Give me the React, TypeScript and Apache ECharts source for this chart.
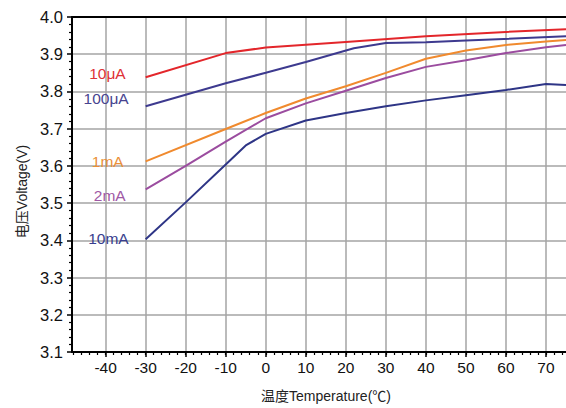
import React, { useEffect, useRef } from "react";
import * as echarts from "echarts";

// ---- data ----
const seriesNames = ["10μA", "100μA", "1mA", "2mA", "10mA"];

const temps10uA = [-30, -10, 0, 20, 40, 60, 75];
const volts10uA = [3.838, 3.903, 3.918, 3.933, 3.948, 3.96, 3.967];

const temps100uA = [-30, -10, 0, 10, 22, 30, 40, 50, 75];
const volts100uA = [3.76, 3.822, 3.85, 3.879, 3.916, 3.93, 3.932, 3.937, 3.948];

const temps1mA = [-30, -10, 0, 10, 20, 30, 40, 50, 60, 70, 75];
const volts1mA = [3.612, 3.699, 3.742, 3.781, 3.814, 3.85, 3.888, 3.91, 3.925, 3.934, 3.938];

const temps2mA = [-30, -20, -10, 0, 10, 20, 30, 40, 50, 60, 70, 75];
const volts2mA = [3.537, 3.6, 3.665, 3.728, 3.768, 3.802, 3.836, 3.866, 3.884, 3.903, 3.919, 3.925];

const temps10mA = [-30, -20, -10, -5, 0, 10, 20, 30, 40, 50, 60, 70, 75];
const volts10mA = [3.403, 3.502, 3.604, 3.655, 3.686, 3.722, 3.742, 3.76, 3.776, 3.79, 3.804, 3.82, 3.817];

const xTickLabels = [-40, -30, -20, -10, 0, 10, 20, 30, 40, 50, 60, 70];
const yTickLabels = ["3.1", "3.2", "3.3", "3.4", "3.5", "3.6", "3.7", "3.8", "3.9", "4.0"];

const xName = "温度Temperature(℃)";
const yName = "电压Voltage(V)";

// ---- styles ----
const lineColors = ["#e3262b", "#3d3a8f", "#f08a2e", "#9b4c9f", "#2e3586"];
const labelColors = ["#de3236", "#47438f", "#ea8f38", "#a058a5", "#383e8e"];
const labelDistance = [20, 17, 22, 20, 17];
const labelDy = [-4, -7.5, 0, 6.5, -1];

const FONT = "'Liberation Sans', Arial, 'Noto Sans CJK SC', sans-serif";
const X_MIN = -48.4;
const X_MAX = 75;

export default function App() {
  const ref = useRef<HTMLDivElement>(null);

  useEffect(() => {
    if (!ref.current) return;
    const chart = echarts.init(ref.current, null, { renderer: "svg" });

    const minorX: number[] = [];
    for (let v = -48; v <= 74; v += 2) minorX.push(v);

    const temps = [temps10uA, temps100uA, temps1mA, temps2mA, temps10mA];
    const volts = [volts10uA, volts100uA, volts1mA, volts2mA, volts10mA];

    const series = seriesNames.map((name, s) => ({
      type: "line",
      name,
      xAxisIndex: 0,
      yAxisIndex: 0,
      symbol: "circle",
      symbolSize: 0,
      showSymbol: true,
      silent: true,
      lineStyle: { color: lineColors[s], width: 2 },
      itemStyle: { color: lineColors[s] },
      emphasis: { disabled: true },
      data: temps[s].map((t, i) =>
        i === 0
          ? {
              value: [t, volts[s][i]],
              label: {
                show: true,
                position: "left",
                distance: labelDistance[s],
                offset: [0, labelDy[s]],
                formatter: name,
                color: labelColors[s],
                fontSize: 15.5,
                fontFamily: FONT,
              },
            }
          : [t, volts[s][i]]
      ),
    }));

    chart.setOption({
      animation: false,
      backgroundColor: "#ffffff",
      grid: { left: 72, top: 17, right: 0, bottom: 55 },
      xAxis: [
        {
          type: "value",
          min: X_MIN,
          max: X_MAX,
          position: "bottom",
          axisLine: { show: true, onZero: false, lineStyle: { color: "#000", width: 2 } },
          axisTick: {
            show: true,
            customValues: xTickLabels,
            length: 5,
            lineStyle: { color: "#000", width: 1.5 },
          },
          axisLabel: {
            customValues: xTickLabels,
            margin: 8,
            fontSize: 15.5,
            color: "#111",
            fontFamily: FONT,
          },
          splitLine: { show: true, lineStyle: { color: "#a4a4a4", width: 1.5 } },
          name: xName,
          nameLocation: "middle",
          nameGap: 37,
          nameTextStyle: {
            fontSize: 14,
            color: "#222",
            fontFamily: FONT,
            padding: [0, 0, 0, 14],
          },
        },
        {
          type: "value",
          min: X_MIN,
          max: X_MAX,
          position: "bottom",
          axisLine: { show: false },
          axisTick: {
            show: true,
            customValues: minorX,
            length: 3,
            lineStyle: { color: "#000", width: 1.2 },
          },
          axisLabel: { show: false },
          splitLine: { show: false },
        },
        {
          type: "value",
          min: X_MIN,
          max: X_MAX,
          position: "top",
          axisLine: { show: true, onZero: false, lineStyle: { color: "#000", width: 2 } },
          axisTick: { show: false },
          axisLabel: { show: false },
          splitLine: { show: false },
        },
      ],
      yAxis: {
        type: "value",
        min: 3.1,
        max: 4.0,
        interval: 0.1,
        axisLine: { show: true, onZero: false, lineStyle: { color: "#000", width: 2 } },
        axisTick: { show: true, length: 5, lineStyle: { color: "#000", width: 1.5 } },
        minorTick: { show: true, splitNumber: 5, length: 3, lineStyle: { color: "#000", width: 1.2 } },
        axisLabel: {
          margin: 9,
          fontSize: 16.5,
          color: "#111",
          fontFamily: FONT,
          formatter: (v: number) => {
            const idx = Math.round((v - 3.1) * 10);
            return yTickLabels[idx] ?? v.toFixed(1);
          },
        },
        splitLine: { show: true, lineStyle: { color: "#a4a4a4", width: 1.5 } },
        name: yName,
        nameLocation: "middle",
        nameGap: 39,
        nameRotate: 90,
        nameTextStyle: {
          fontSize: 14,
          color: "#222",
          fontFamily: FONT,
          padding: [0, 14, 0, 0],
        },
      },
      series,
    });

    return () => chart.dispose();
  }, []);

  return (
    <div
      ref={ref}
      style={{ position: "absolute", left: 0, top: 0, width: 566, height: 408 }}
    />
  );
}
